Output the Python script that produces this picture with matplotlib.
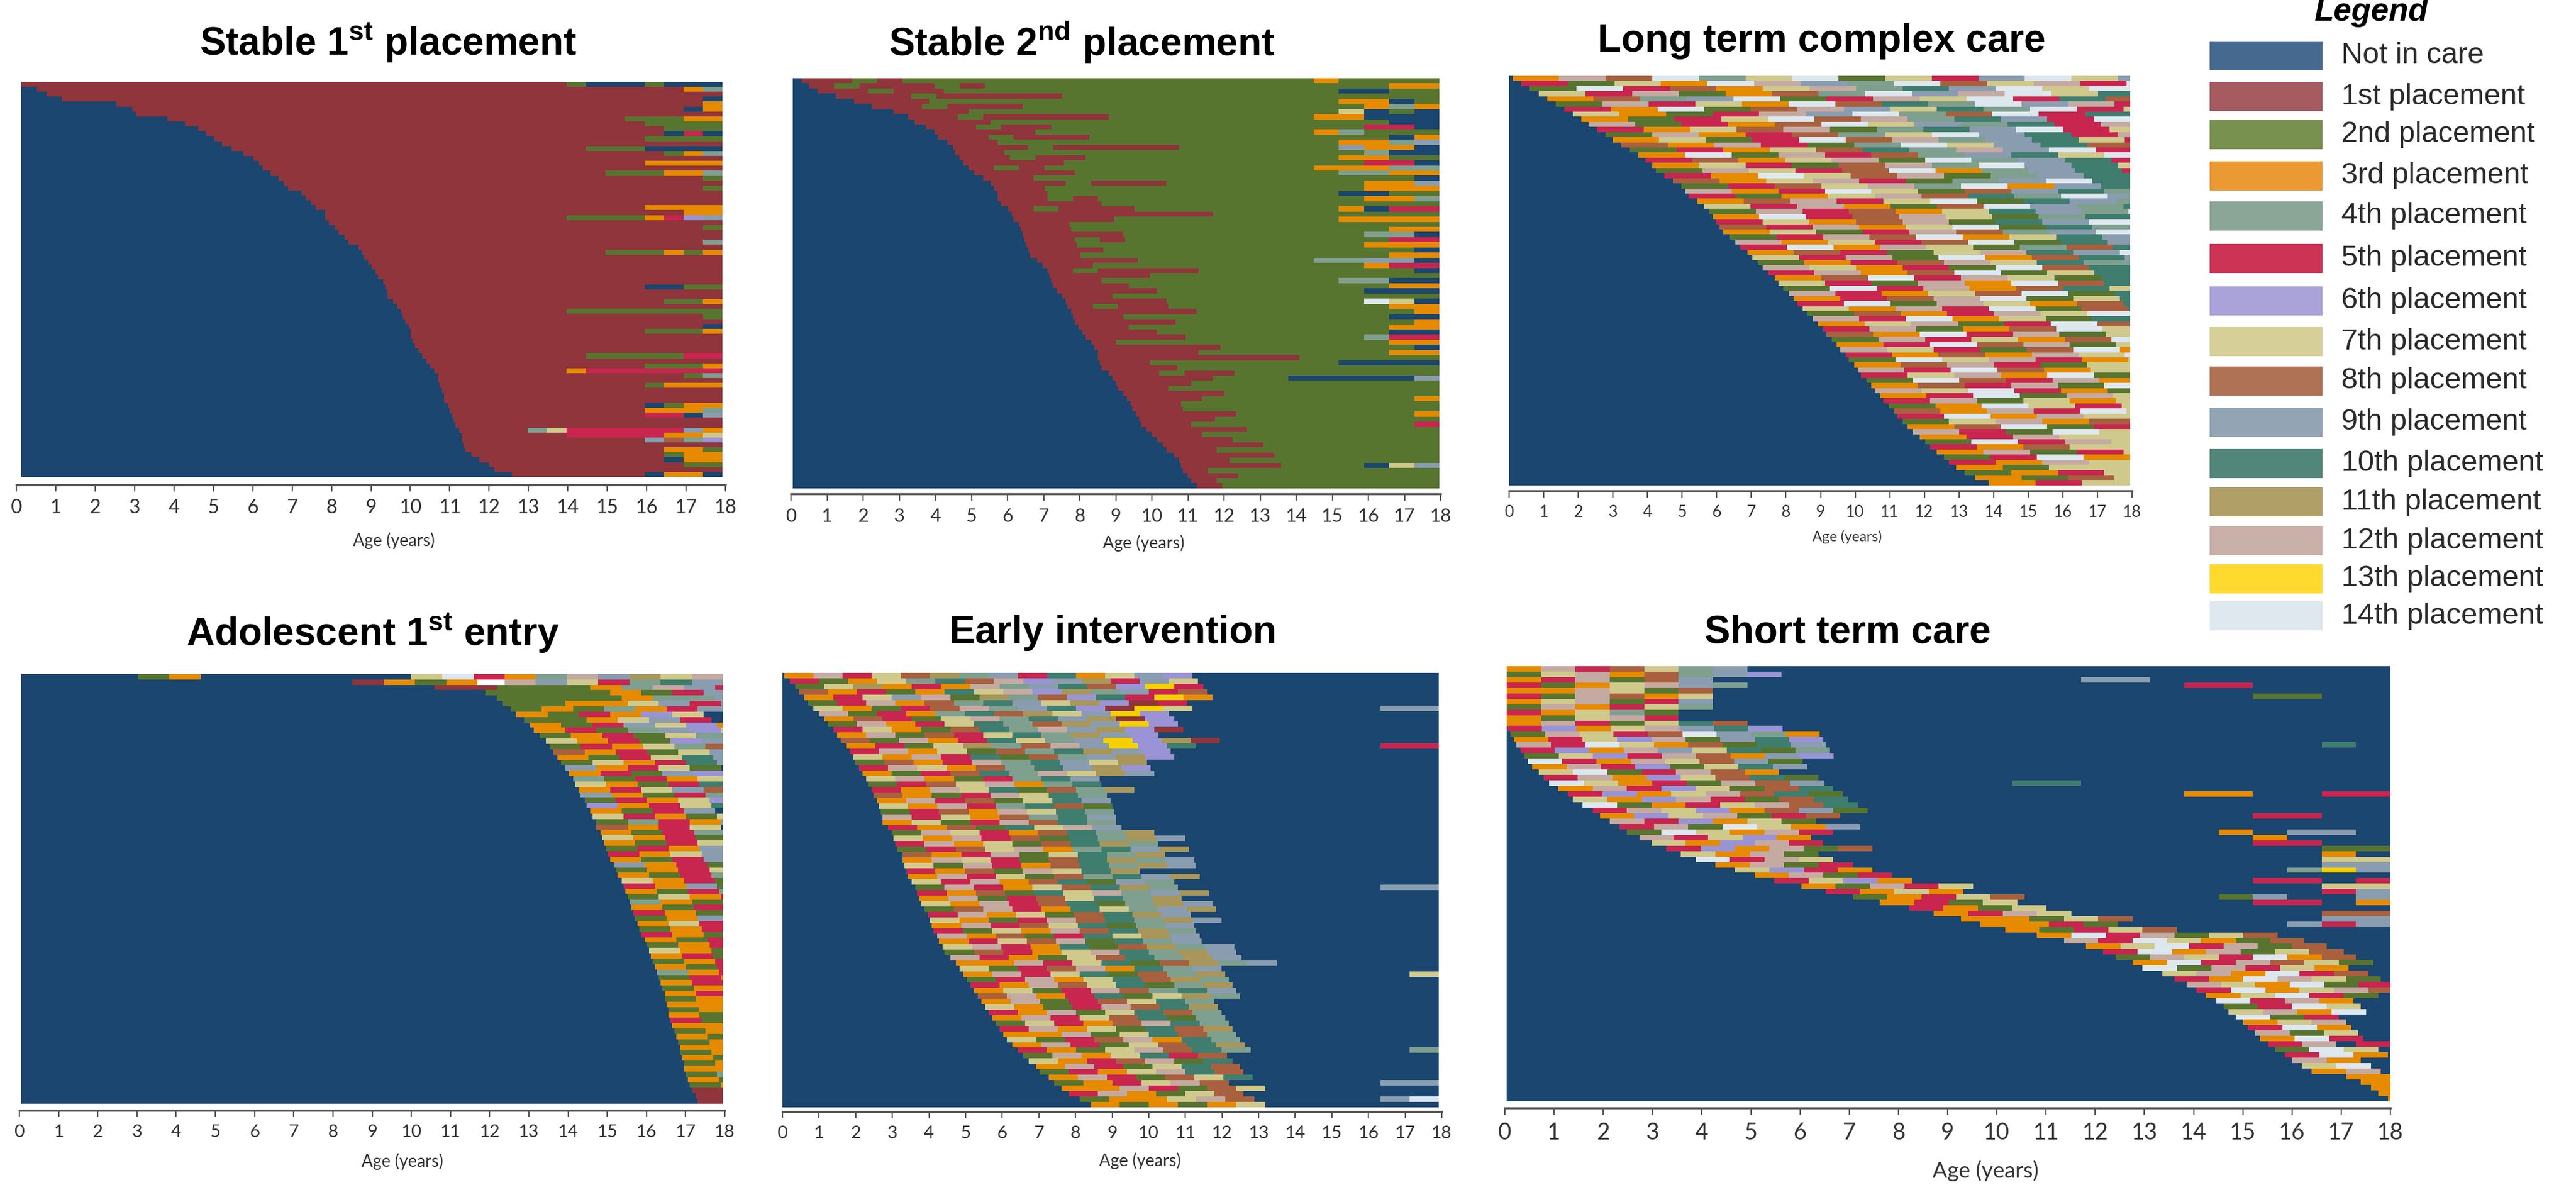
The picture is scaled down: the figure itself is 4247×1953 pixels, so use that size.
import matplotlib
matplotlib.use("Agg")
import matplotlib.pyplot as plt
from matplotlib.patches import Rectangle

plt.rcParams['font.family'] = ['Liberation Sans', 'DejaVu Sans']
plt.rcParams['mathtext.fontset'] = 'custom'
plt.rcParams['mathtext.bf'] = 'Liberation Sans:bold'
plt.rcParams['mathtext.rm'] = 'Liberation Sans:bold'

W, H = 4247, 1953

legend_labels = ['Not in care', '1st placement', '2nd placement', '3rd placement', '4th placement',
                 '5th placement', '6th placement', '7th placement', '8th placement', '9th placement',
                 '10th placement', '11th placement', '12th placement', '13th placement', '14th placement']
legend_colors = ['#466a8f', '#a55b5f', '#79914f', '#ea9933', '#8ba596', '#cc3355', '#a9a3da', '#d6cf98',
                 '#b07255', '#93a4b5', '#52867a', '#b0a068', '#c9b0a9', '#ffda2e', '#dfe8ee']
state_colors = ['#1a4670', '#8f353b', '#587530', '#e68a00', '#7f9f8f', '#c8254f', '#9a94d6', '#d0c98c',
                '#a8603f', '#8a9db0', '#3f7d6e', '#a8965a', '#c5aaa2', '#f5d000', '#dde7ee']
state_codes = '0123456789abcde'
age_ticks = list(range(19))

# age at first entry per row, top row first
entry_stable1 = [0.0, 0.4, 0.65, 1.05, 2.45, 2.85, 2.95, 3.75, 4.2, 4.55,
                 4.75, 4.95, 5.15, 5.4, 5.7, 5.95, 6.1, 6.2, 6.4, 6.6,
                 6.75, 6.85, 7.2, 7.3, 7.45, 7.55, 7.8, 7.8, 7.9, 8.05,
                 8.15, 8.3, 8.4, 8.65, 8.75, 8.8, 8.9, 9.0, 9.1, 9.15,
                 9.3, 9.35, 9.4, 9.4, 9.55, 9.65, 9.75, 9.8, 9.85, 9.95,
                 10.0, 10.0, 10.05, 10.1, 10.2, 10.3, 10.4, 10.5, 10.6, 10.7,
                 10.7, 10.75, 10.8, 10.85, 10.85, 10.95, 11.0, 11.05, 11.1, 11.15,
                 11.25, 11.3, 11.3, 11.35, 11.4, 11.55, 11.75, 12.0, 12.15, 12.6]
# "head|tail": head starts at entry, tail ends at 18, one sign is one cell of the panel
seq_stable1 = ["|20002000", "|34", "", "|0", "|3", "|03", "", "|22233", "|2222", "|222",
               "|050", "|2222", "", "|2220000", "|234", "", "|3333", "", "|222334", "|2",
               "", "|2", "", "", "", "|3333", "|33", "|22223569", "", "|2",
               "", "", "|4", "", "|222323", "", "", "", "", "",
               "", "|0022", "", "", "|223", "", "|22222222", "|2", "", "|0",
               "|2223", "", "", "", "", "|2222255", "", "|2223", "|35555555", "|24",
               "", "|2333", "", "", "", "|0233", "|3334", "|5509", "", "",
               "|4755555593", "|55555337", "|9846", "", "|332", "|233", "|033", "|22", "", "|0330"]

entry_stable2 = [0.25, 0.45, 0.7, 1.2, 1.7, 2.2, 2.8, 3.2, 3.4, 3.7,
                 3.95, 4.05, 4.3, 4.45, 4.5, 4.65, 4.75, 4.9, 5.05, 5.3,
                 5.5, 5.6, 5.7, 5.7, 5.8, 6.0, 6.1, 6.15, 6.3, 6.35,
                 6.4, 6.45, 6.5, 6.55, 6.6, 6.8, 6.95, 7.1, 7.15, 7.2,
                 7.25, 7.35, 7.5, 7.6, 7.65, 7.75, 7.8, 7.85, 7.95, 8.05,
                 8.15, 8.3, 8.4, 8.5, 8.5, 8.55, 8.6, 8.8, 8.9, 9.0,
                 9.05, 9.2, 9.3, 9.4, 9.45, 9.55, 9.65, 9.7, 9.85, 10.0,
                 10.15, 10.3, 10.4, 10.6, 10.75, 10.8, 10.85, 11.0, 11.1, 11.25]
seq_stable2 = ["1121|32222", "1211121|2222233", "11211|22220022", "1112111112|22222", "111|22223302", "1121112|2343", "1112|2227020", "11211111|33000", "111|2222200",
               "11211|22550", "1111|2234222", "112111|2222203", "11|223349", "111211111|9330", "11|22222400", "11211|3322", "1111|22550",
               "121|2233344", "1111|224433", "11|2220", "1112111|2339", "112|22333", "11|220022", "1121|222334", "1111|2222",
               "12111|223055", "11111111|222", "1111|2223333", "11|222", "112|2233", "1111|22440", "1121|2255", "11|22333",
               "111|22220", "112|2233", "1111|2244990", "11|22355", "121111|2220", "1111|22", "11|4400", "111|2233",
               "1111|2000", "112|22", "1111|22e70", "1211|2233", "11111|3", "11|2200", "1111|223", "11|33",
               "111|00", "1111|2455", "12|33", "11111|0", "1111|33", "11111111|2", "11|0000", "111",
               "11211|2", "1111|000009", "111|22", "11", "1111", "111|3", "11|2", "11", "1111|3", "111",
               "11|5", "1111", "11|2", "111", "1111|2", "11", "1111", "11", "1111|2079", "1", "11", "1", "1"]

entry_long = [0.1, 0.35, 0.6, 0.87, 1.1, 1.35, 1.6, 1.85, 2.1, 2.3,
              2.55, 2.8, 3.0, 3.25, 3.5, 3.75, 3.95, 4.15, 4.25, 4.5,
              4.75, 5.0, 5.1, 5.2, 5.45, 5.65, 5.8, 5.9, 6.0, 6.1,
              6.2, 6.4, 6.55, 6.7, 6.9, 7.05, 7.2, 7.35, 7.5, 7.7,
              7.8, 7.95, 8.1, 8.25, 8.35, 8.5, 8.65, 8.8, 8.95, 9.1,
              9.2, 9.35, 9.5, 9.6, 9.75, 9.85, 10.0, 10.1, 10.2, 10.35,
              10.5, 10.6, 10.75, 10.85, 11.0, 11.15, 11.25, 11.4, 11.55, 11.7,
              11.9, 12.05, 12.2, 12.4, 12.6, 12.75, 12.95, 13.2, 13.5, 13.9]
seq_long = ["3c8e47e2759e79c74ee", "5273ec94e87c5e9a4c7", "2e5837c4a9e7e5c879e",
            "75c2384e9ce7a5e48c", "3849e25c7e5a8c7e9e", "2c573e8a4e9c5e7d8e",
            "53e28c97a4e578c9e7", "7325c9e48e5a9c7e8", "3257e8c4a95e78c7e", "c2538e794a5c78e97",
            "5378c24a9e5778c4", "2c35847e9a5c7e84", "3725e8c49a7578ce", "83c524e79a8c75e7",
            "25378a4c9e578c", "3e2c5849a7e5c8", "5837c2e49a578c", "37528c4e9a75c8", "2c758e349a5c7e", "53e78c249a75c",
            "837c5249ea57c8", "2587c4e39a75c", "c35e7289a475c", "5237c8a4e957c", "38c57e2a94d7", "75c328e94a5c",
            "2c5837a94e5c", "3e58c724a95c", "5738c2a9e45", "85c37e2a495",
            "3725c849ea5", "25c8e37a94", "c3758e2a94", "5e3c7248a9", "38527ca9e4", "75c2e38a9",
            "2358c7a4e", "c7352e8a4", "5c38e27a9", "38e5c72a9",
            "752c3e8a4", "2e5c38a7", "c5378e2a", "358ce27a", "5e2c738a", "73c5e28a",
            "2835c7ea", "c5e372a8", "37c25e8a", "5c238e7",
            "83e5c27", "2c5738e", "35e8c27", "c7528e3", "5383c7e", "2e7c53",
            "38c527", "c5e837", "57c3e2", "2e85c3",
            "385c2e", "c7e532", "35e2c", "5c273", "23e75", "83c5e",
            "5e3c7", "27c38", "38e25", "c52e7",
            "35c7", "2e5c", "5387", "3c25", "25e3", "53c", "327", "235", "328", "35"]

entry_adol = [3.0, 8.5, 10.6, 11.9, 12.2, 12.35, 12.55, 12.7, 12.9, 13.05,
              13.15, 13.3, 13.45, 13.55, 13.65, 13.75, 13.85, 13.95, 14.05, 14.15,
              14.2, 14.3, 14.35, 14.45, 14.5, 14.6, 14.65, 14.75, 14.75, 14.85,
              14.9, 14.95, 15.0, 15.05, 15.1, 15.2, 15.25, 15.3, 15.4, 15.45,
              15.5, 15.55, 15.6, 15.65, 15.7, 15.75, 15.8, 15.85, 15.9, 16.0,
              16.05, 16.1, 16.15, 16.2, 16.25, 16.3, 16.35, 16.4, 16.45, 16.5,
              16.5, 16.55, 16.6, 16.6, 16.65, 16.7, 16.75, 16.8, 16.85, 16.9,
              16.9, 16.95, 17.0, 17.0, 17.05, 17.1, 17.15, 17.2, 17.3, 17.35]
seq_adol = ["23|7e534c9b7c", "1323|3c9754a9", "1122234c957", "2222325937", "222234493", "22337954", "2324359", "325367",
            "223795", "3259763", "3524967", "235274", "735269", "253748", "835279", "3257a9",
            "2735a9", "93572", "35296", "42537", "7325a", "35798", "93254", "25376", "6357a",
            "3259", "75327", "24539", "8357", "32548", "73529", "32576", "25394", "53798", "3259",
            "9352", "2357", "3254", "7352", "5392", "3254", "2735", "4329", "3257", "5324",
            "2395", "3754", "2354", "5329", "3257", "235", "732", "352", "235", "325",
            "435", "253", "352", "233", "352", "235", "332", "233", "323", "523",
            "332", "235", "323", "23", "33", "23", "32", "23", "33", "24",
            "32", "23", "13", "13", "12"]

entry_early = [0.05, 0.2, 0.35, 0.45, 0.6, 0.7, 0.85, 1.0, 1.15, 1.25,
               1.4, 1.5, 1.6, 1.75, 1.85, 1.95, 2.0, 2.1, 2.2, 2.3,
               2.35, 2.45, 2.5, 2.6, 2.65, 2.7, 2.75, 2.75, 2.9, 3.0,
               3.05, 3.1, 3.15, 3.3, 3.3, 3.35, 3.4, 3.45, 3.55, 3.65,
               3.7, 3.75, 3.8, 3.9, 4.0, 4.05, 4.1, 4.15, 4.25, 4.3,
               4.4, 4.45, 4.6, 4.75, 4.85, 4.95, 5.05, 5.15, 5.25, 5.35,
               5.45, 5.55, 5.65, 5.75, 5.85, 5.95, 6.05, 6.15, 6.3, 6.45,
               6.6, 6.75, 6.95, 7.05, 7.3, 7.45, 7.65, 7.85, 8.15, 8.45]
seq_early = ["3c578b495a3796", "52374a8c69b597|0000000", "27b353c49a86d5", "83523a7c6b4958", "3579c2b486a5d3", "25c384a97b615", "73258c49a61d7|99", "c2534a8b79d6", "38527c4a9b16",
             "2c357a48b9d6", "57328a4c9b61", "3c2857a4b96", "82c35a749d6b1", "3527b48c9d6a|55", "5c37284ab96", "73c5a2849b6", "2835c4a97b", "5c7384a9b6", "3258a4c7b9", "7c3254a9",
             "2587c34a", "53c7a284b", "8325c7a4", "3c5827a9", "73c54a82", "2583c7a4", "c57384a9", "3725c8a4", "5382a7c9", "2c7538a4b",
             "73c582a4b9", "5c3728ab4", "2587c34a9b", "835c27a4b", "3c7528ab49", "72c538a4b9", "5382c7ab", "3c57284a9b", "75c38a294", "2c5378ab4|99",
             "5382a7c49b", "3c2587a4b", "73c58a24b9", "28c53a749b", "5c3728ab9", "7325c8a4b9", "3c587a249", "5273c8ab4", "c3825a7b9", "3578c2a49",
             "7c53a28b49", "28537ca4b9", "c53278a4b9", "33c57a28b49", "7258c3a49", "3c57a284b|7", "25c37a8b4", "53c87a24b", "3725c84a9", "8c35a27b4",
             "3c2587a4", "7325c8ab", "53c27a84", "3c578a24", "27538ca4", "5c372a8b", "33c27a84", "7258c3a4", "3c5278ab", "5327c8a4|4",
             "2c37a58", "7358c2a", "3c527a8", "2537ca8", "3c5287a", "2357c8|99", "33c5287", "5c3278", "2337c8|9e", "323237"]

entry_short = [0, 0, 0, 0, 0, 0, 0, 0, 0, 0,
               0, 0.02, 0.08, 0.15, 0.2, 0.28, 0.36, 0.43, 0.52, 0.65,
               0.75, 0.87, 1.05, 1.25, 1.35, 1.55, 1.75, 1.9, 2.1, 2.3,
               2.45, 2.7, 2.95, 3.25, 3.55, 3.85, 4.25, 4.65, 5.05, 5.45,
               6.0, 6.5, 7.05, 7.6, 8.2, 8.7, 9.25, 9.65, 10.15, 10.8,
               11.35, 11.8, 12.15, 12.4, 12.75, 12.95, 13.35, 13.6, 13.85, 14.05,
               14.25, 14.45, 14.6, 14.7, 14.85, 15.0, 15.1, 15.25, 15.35, 15.5,
               15.65, 15.85, 16.0, 16.2, 16.4, 17.1, 17.4, 17.6, 17.75, 17.95]
seq_short = ["3c58749", "27c38496", "35c289|990000000", "5237c94|550000", "33c728", "52c837|2200", "37c259", "2c3574|0", "53742", "327c5",
             "3c527a8", "5637c9a6", "2c758e943", "3576c29a6", "c5e7382a9|00a0", "563c97a24", "2765c8396", "e53c7892", "3c5627a9", "7e25c83",
             "5c3678a2", "e7352c89|aa000000000", "3c56728a", "5637c8a2|330055", "736c528a", "e2357c8a|0", "5c763892", "367c258|5500", "c56372|00", "5c2e739",
             "2e73c5|30990", "c5763|3000", "736c5|5500", "563c28|22", "73c2|00030", "e5c7|77", "3c25|99", "7653|4d9", "3c25", "5763|5505",
             "32c57|77", "5373|59", "23578|29009", "3527|5503", "5327", "35c7|88", "33278|99", "3352|959", "32578", "3e5c278",
             "c5e7328", "37e5c28", "5e3c278", "2c75e38", "3e5c872", "e2c573", "7c3e58", "53ec72", "c73e25", "5e37c8",
             "37e52", "e5c3", "25e7", "7c3e", "e25", "37c", "5e3", "c27", "3e5", "5c|5",
             "2e7", "5e3", "c3", "7e", "3c", "33", "32", "33", "3", "3"]

panel_titles = [r"Stable 1$^{\mathbf{st}}$ placement", r"Stable 2$^{\mathbf{nd}}$ placement", "Long term complex care",
                r"Adolescent 1$^{\mathbf{st}}$ entry", "Early intervention", "Short term care"]
panel_entries = [entry_stable1, entry_stable2, entry_long, entry_adol, entry_early, entry_short]
panel_seqs = [seq_stable1, seq_stable2, seq_long, seq_adol, seq_early, seq_short]
panel_mid = ['1', '2', '7', '0', '0', '0']
panel_cell = [0.5, 0.7, 1.35, 0.8, 0.8, 0.7]

# pixel layout: plot box (x0, x1, y0, y1), axis (x0, x1, y), title (x, y), tick size, label y
plot_boxes = [(35, 1191, 135, 786), (1307, 2373, 129, 805), (2488, 3512, 125, 800),
              (35, 1192, 1111, 1819), (1290, 2372, 1109, 1825), (2484, 3941, 1098, 1815)]
axis_lines = [(27, 1196, 799), (1304, 2375, 814), (2488, 3515, 809),
              (32, 1195, 1830), (1290, 2377, 1832), (2481, 3941, 1826)]
title_pos = [(640, 70), (1783, 70), (3003, 68), (615, 1043), (1835, 1043), (3046, 1043)]
tick_sizes = [23, 22, 19, 21, 21, 27]
label_pos = [(649, 891), (1885, 895), (3045, 885), (663, 1914), (1879, 1913), (3274, 1930)]
label_sizes = [20, 20, 17, 20, 20, 26]
legend_y = [92, 159, 222, 290, 356, 426, 496, 563, 628, 696, 764, 827, 891, 954, 1015]


def get_runs(row_idx, entry, seq, mid, cell):
    head, _, tail = seq.partition('|')
    cells = [(entry + k * cell, entry + (k + 1) * cell, c) for k, c in enumerate(head)]
    head_end = entry + len(head) * cell
    tail_start = 18 - len(tail) * cell
    if tail_start > head_end:
        cells.append((head_end, tail_start, mid))
    for k, c in enumerate(tail):
        start = tail_start + k * cell
        if start >= head_end:
            cells.append((start, start + cell, c))
    runs = [(0, entry, 0)] if entry > 0 else []
    for a, b, c in cells:
        if a >= 18:
            continue
        runs.append((a, min(b, 18), state_codes.index(c)))
    return [(row_idx, a, b - a, s) for a, b, s in runs]


def px_rect(x0, x1, y0, y1):
    return [x0 / W, 1 - y1 / H, (x1 - x0) / W, (y1 - y0) / H]


def plot_panel(fig, idx):
    x0, x1, y0, y1 = plot_boxes[idx]
    ax = fig.add_axes(px_rect(x0, x1, y0, y1))
    entries = panel_entries[idx]
    seqs = panel_seqs[idx]
    bars = []
    for i, entry in enumerate(entries):
        seq = seqs[i] if i < len(seqs) else ""
        bars += get_runs(i, entry, seq, panel_mid[idx], panel_cell[idx])
    ax.barh([b[0] + 0.5 for b in bars], [b[2] for b in bars], left=[b[1] for b in bars], height=1.02,
            color=[state_colors[b[3]] for b in bars], linewidth=0, antialiased=False)
    ax.set_xlim(0, 18)
    ax.set_ylim(len(entries), 0)
    ax.axis('off')

    # separate axis because the ticks overshoot the plot box a little
    ax_x0, ax_x1, ax_y = axis_lines[idx]
    tick_ax = fig.add_axes(px_rect(ax_x0, ax_x1, ax_y, ax_y + 1))
    tick_ax.set_xlim(0, 18)
    tick_ax.set_yticks([])
    for side in ['left', 'right', 'bottom']:
        tick_ax.spines[side].set_visible(False)
    tick_ax.spines['top'].set_color('#555555')
    tick_ax.spines['top'].set_linewidth(2.5)
    tick_ax.set_xticks(age_ticks)
    tick_ax.tick_params(axis='x', length=7, width=1.6, color='#555555', pad=9)
    for lab in tick_ax.get_xticklabels():
        lab.set_fontfamily(['Lato', 'DejaVu Sans'])
        lab.set_fontsize(tick_sizes[idx])
        lab.set_color('#333333')

    tx, ty = title_pos[idx]
    fig.text(tx / W, 1 - ty / H, panel_titles[idx], ha='center', va='center', fontsize=46,
             fontweight='bold', color='black')
    lx, ly = label_pos[idx]
    fig.text(lx / W, 1 - ly / H, 'Age (years)', ha='center', va='center', fontsize=label_sizes[idx],
             family=['Lato', 'DejaVu Sans'], color='#333333')


def plot_legend(fig):
    for label, color, y in zip(legend_labels, legend_colors, legend_y):
        fig.add_artist(Rectangle((3643 / W, 1 - (y + 24) / H), 186 / W, 48 / H, transform=fig.transFigure,
                                 facecolor=color, edgecolor='none'))
        fig.text(3860 / W, 1 - y / H, label, ha='left', va='center', fontsize=35, color='#2a2a2a')
    fig.text(3909 / W, 1 - 20 / H, 'Legend', ha='center', va='center', fontsize=38, fontweight='bold',
             fontstyle='italic', color='black')


if __name__ == "__main__":
    fig = plt.figure(figsize=(W / 100, H / 100), dpi=100)
    for idx in range(6):
        plot_panel(fig, idx)
    plot_legend(fig)
    fig.savefig('out.png', dpi=100)
    plt.close(fig)
